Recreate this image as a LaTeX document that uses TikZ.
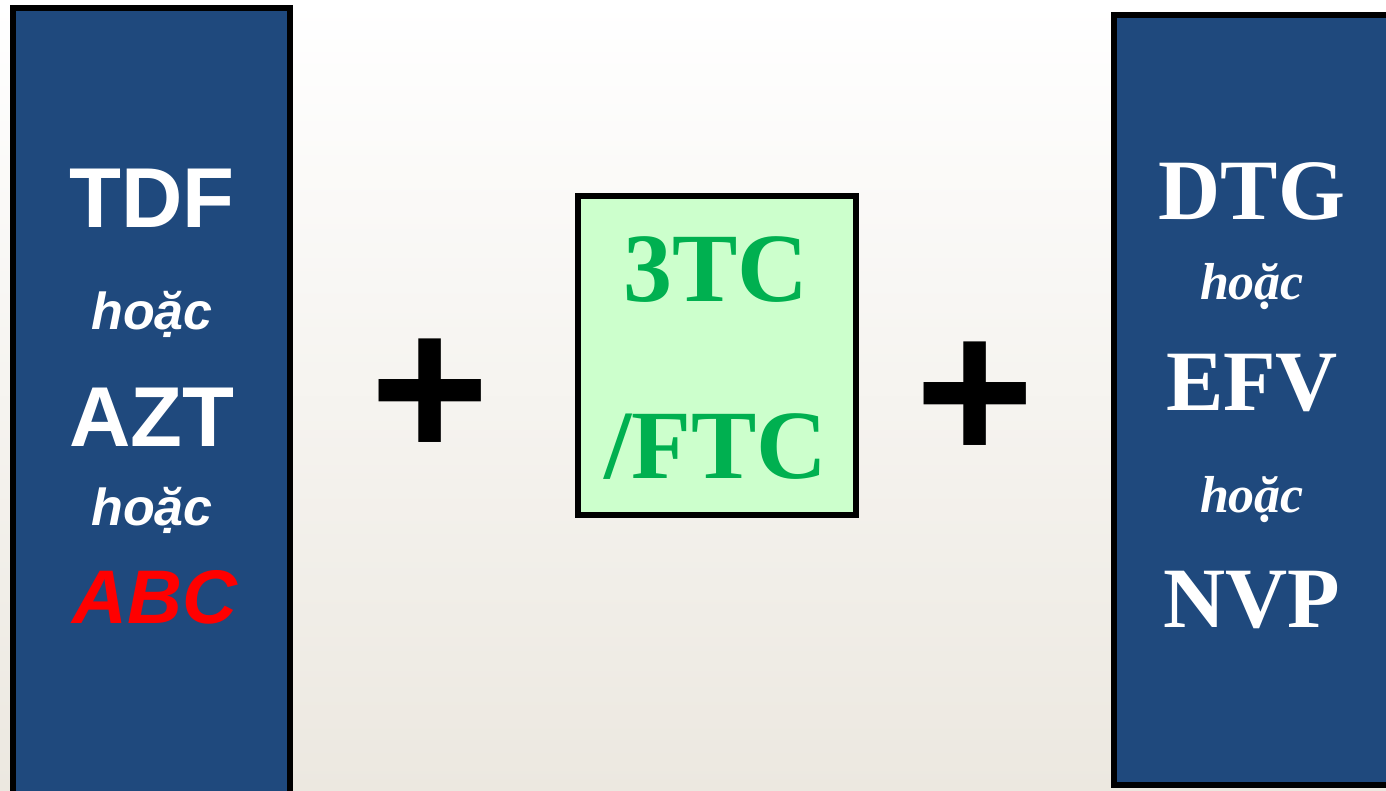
\documentclass[tikz,border=0pt]{standalone}
\usepackage{fontspec}
\setmainfont{Liberation Serif}
\newfontfamily\arialfont{Liberation Sans}
\usepackage{xcolor}
\usetikzlibrary{positioning}

\definecolor{boxblue}{HTML}{1F497D}
\definecolor{mintfill}{HTML}{CCFFCC}
\definecolor{drugreen}{HTML}{00B050}
\definecolor{bgbottom}{HTML}{ECE8E0}
\newcommand{\fsz}[1]{\fontsize{#1}{#1}\selectfont}

\begin{document}
\begin{tikzpicture}[
  x=1pt, y=-1pt,
  column/.style={draw=black, line width=6pt, fill=boxblue,
                 anchor=north west, inner sep=0pt, outer sep=0pt},
  combo/.style ={column, fill=mintfill},
  drugA/.style ={anchor=base, inner sep=0pt, text=white,
                 font=\arialfont\bfseries\fsz{85}},
  orA/.style   ={drugA, font=\arialfont\bfseries\itshape\fsz{52}},
  drugB/.style ={anchor=base, inner sep=0pt, text=white,
                 font=\bfseries\fsz{86}},
  orB/.style   ={drugB, font=\bfseries\itshape\fsz{52}},
  nrti/.style  ={anchor=base, inner sep=0pt, text=drugreen,
                 font=\bfseries\fsz{98}},
  plus/.style  ={anchor=base, inner sep=0pt,
                 font=\arialfont\bfseries\fsz{204}},
]

% page and background
\useasboundingbox (0,0) rectangle (1386,791);
\clip (0,0) rectangle (1386,791);
\shade[top color=white, bottom color=bgbottom] (0,0) rectangle (1386,791);

% three columns
\node[column, minimum width=277pt, minimum height=812pt] (lcol) at (13,8) {};
\node[combo,  minimum width=278pt, minimum height=319pt] (mcol) at (578,196) {};
\node[column, minimum width=306pt, minimum height=770pt] (rcol) at (1114,15) {};

% left column: first drug
\node[drugA] (tdf)  at (152,228) {TDF};
\node[orA]   (orA1) at (152,330) {hoặc};
\node[drugA] (azt)  at (152,446) {AZT};
\node[orA]   (orA2) at (152,525) {hoặc};
\node[drugA, text=red, font=\arialfont\bfseries\itshape\fsz{76}] (abc) at (155,623) {ABC};

% middle column: backbone
\node[nrti] (threetc) at (716,302) {3TC};
\node[nrti] (ftc)     at (716,478) {/FTC};

% right column: third drug
\node[drugB] (dtg)  at (1252,220) {DTG};
\node[orB]   (orB1) at (1252,300) {hoặc};
\node[drugB] (efv)  at (1252,410) {EFV};
\node[orB]   (orB2) at (1252,512) {hoặc};
\node[drugB] (nvp)  at (1252,627) {NVP};

% plus signs between the columns
\node[plus] (plusA) at (430,458) {+};
\node[plus] (plusB) at (975,461) {+};

\end{tikzpicture}
\end{document}
